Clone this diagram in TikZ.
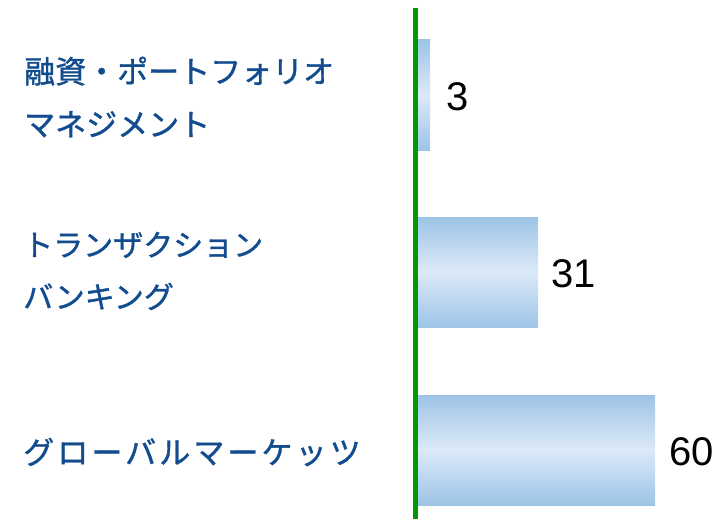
\documentclass[tikz,border=0pt]{standalone}
\usepackage{fontspec}
\setmainfont{Liberation Sans}
\newfontfamily\cjk[FakeBold=1.2]{Noto Sans CJK JP}
\usepackage{xcolor}
\definecolor{labelBlue}{RGB}{18, 76, 143}
\definecolor{barBlue}{RGB}{157, 196, 230}
\definecolor{barLight}{RGB}{220, 233, 248}
\definecolor{axisGreen}{RGB}{0, 153, 0}

\begin{document}
\begin{tikzpicture}[x=1pt, y=-1pt]
            % Styles
            \tikzstyle{bar} = [rectangle, anchor=west, inner sep=0pt, minimum height=110pt, top color=barBlue, bottom color=barBlue, middle color=barLight]
            \tikzstyle{value} = [anchor=west, inner sep=0pt, text=black, font=\fontsize{40}{40}\selectfont]
            \tikzstyle{category} = [anchor=west, inner sep=0pt, align=left, text=labelBlue, font=\cjk\fontsize{31}{53}\selectfont]
            \tikzstyle{axis} = [draw=axisGreen, line width=5pt]

            \useasboundingbox (0, 0) rectangle (727, 519);

            % Bars
            \node[bar, minimum width=12pt] (fin) at (418, 95) {};
            \node[value] (finval) at (446, 97) {3};
            \node[category] (finlbl) at (24, 97) {融資・ポートフォリオ\\マネジメント};

            \node[bar, minimum width=120pt] (txn) at (418, 272) {};
            \node[value] (txnval) at (551, 274) {31};
            \node[category, font=\cjk\fontsize{30}{52}\selectfont] (txnlbl) at (23, 271) {トランザクション\\バンキング};

            \node[bar, minimum width=237pt] (mkt) at (418, 450) {};
            \node[value] (mktval) at (669, 452) {60};
            \node[category, font=\cjk\fontsize{31}{53}\selectfont\addfontfeature{LetterSpace=10}] (mktlbl) at (23, 452) {グローバルマーケッツ};

            % Axis
            \coordinate (axtop) at (415.5, 8);
            \coordinate (axbot) at (415.5, 519);
            \draw[axis] (axtop) -- (axbot);
        \end{tikzpicture}
\end{document}
